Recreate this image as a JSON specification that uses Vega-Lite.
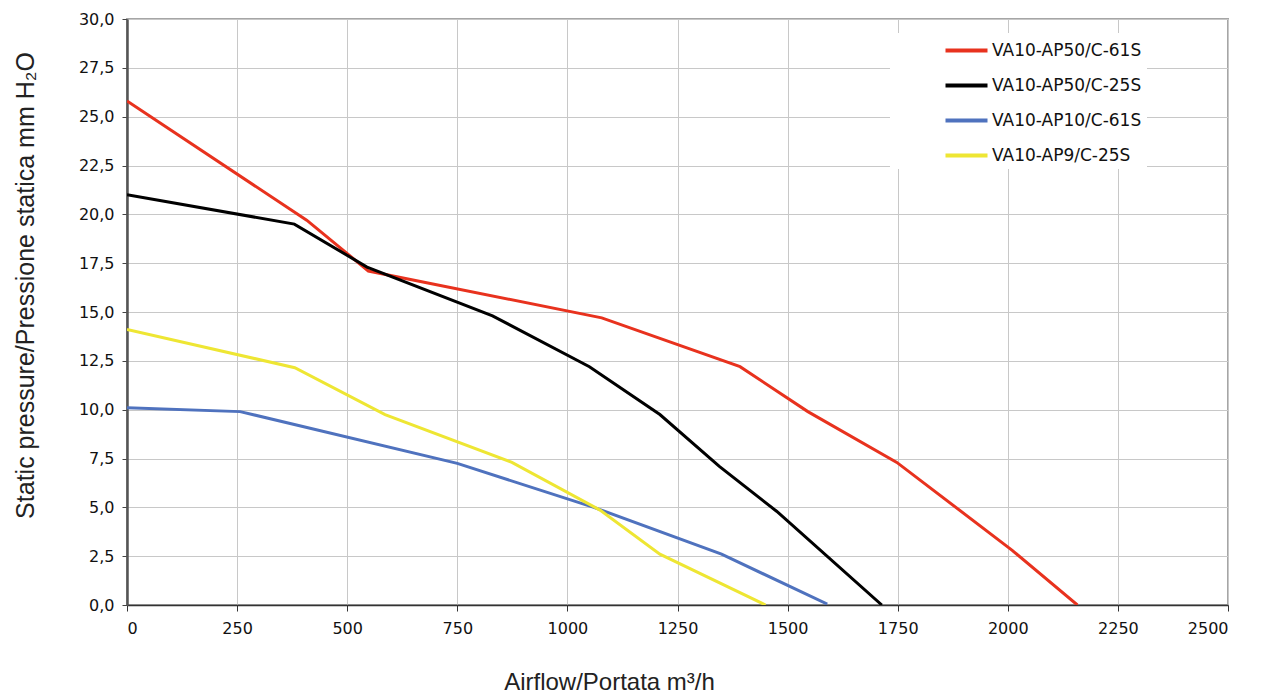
{
  "$schema": "https://vega.github.io/schema/vega-lite/v6.json",
  "width": 1101,
  "height": 586,
  "autosize": "none",
  "padding": {"left": 127, "top": 19, "right": 37, "bottom": 92},
  "background": "white",
  "config": {
    "view": {"stroke": "#A6A6A6", "strokeWidth": 2},
    "font": "DejaVu Sans"
  },
  "data": {
    "values": [
      {"series": "VA10-AP50/C-61S", "airflow": 0, "pressure": 25.8},
      {"series": "VA10-AP50/C-61S", "airflow": 408, "pressure": 19.7},
      {"series": "VA10-AP50/C-61S", "airflow": 548, "pressure": 17.1},
      {"series": "VA10-AP50/C-61S", "airflow": 1078, "pressure": 14.7},
      {"series": "VA10-AP50/C-61S", "airflow": 1392, "pressure": 12.2},
      {"series": "VA10-AP50/C-61S", "airflow": 1546, "pressure": 9.9},
      {"series": "VA10-AP50/C-61S", "airflow": 1748, "pressure": 7.3},
      {"series": "VA10-AP50/C-61S", "airflow": 2010, "pressure": 2.8},
      {"series": "VA10-AP50/C-61S", "airflow": 2158, "pressure": 0},
      {"series": "VA10-AP50/C-25S", "airflow": 0, "pressure": 21.0},
      {"series": "VA10-AP50/C-25S", "airflow": 380, "pressure": 19.5},
      {"series": "VA10-AP50/C-25S", "airflow": 545, "pressure": 17.3},
      {"series": "VA10-AP50/C-25S", "airflow": 830, "pressure": 14.8},
      {"series": "VA10-AP50/C-25S", "airflow": 1050, "pressure": 12.2},
      {"series": "VA10-AP50/C-25S", "airflow": 1210, "pressure": 9.75},
      {"series": "VA10-AP50/C-25S", "airflow": 1345, "pressure": 7.1},
      {"series": "VA10-AP50/C-25S", "airflow": 1475, "pressure": 4.8},
      {"series": "VA10-AP50/C-25S", "airflow": 1714, "pressure": 0},
      {"series": "VA10-AP10/C-61S", "airflow": 0, "pressure": 10.1},
      {"series": "VA10-AP10/C-61S", "airflow": 257, "pressure": 9.9},
      {"series": "VA10-AP10/C-61S", "airflow": 750, "pressure": 7.25},
      {"series": "VA10-AP10/C-61S", "airflow": 1060, "pressure": 5.0},
      {"series": "VA10-AP10/C-61S", "airflow": 1350, "pressure": 2.6},
      {"series": "VA10-AP10/C-61S", "airflow": 1590, "pressure": 0.05},
      {"series": "VA10-AP9/C-25S", "airflow": 0, "pressure": 14.1},
      {"series": "VA10-AP9/C-25S", "airflow": 381, "pressure": 12.15},
      {"series": "VA10-AP9/C-25S", "airflow": 586, "pressure": 9.75},
      {"series": "VA10-AP9/C-25S", "airflow": 874, "pressure": 7.3},
      {"series": "VA10-AP9/C-25S", "airflow": 1074, "pressure": 4.86},
      {"series": "VA10-AP9/C-25S", "airflow": 1210, "pressure": 2.6},
      {"series": "VA10-AP9/C-25S", "airflow": 1450, "pressure": 0}
    ]
  },
  "mark": {"type": "line", "strokeWidth": 3, "clip": true},
  "encoding": {
    "x": {
      "field": "airflow",
      "type": "quantitative",
      "scale": {"domain": [0, 2500], "nice": false, "zero": true},
      "axis": {
        "values": [0, 250, 500, 750, 1000, 1250, 1500, 1750, 2000, 2250, 2500],
        "format": "d",
        "title": "Airflow/Portata  m³/h",
        "titleFont": "Liberation Sans",
        "titleFontWeight": "normal",
        "titleFontSize": 24,
        "titleColor": "#222222",
        "titleX": 482,
        "titleY": 84,
        "titleAnchor": "middle",
        "titleBaseline": "alphabetic",
        "labelFont": "DejaVu Sans",
        "labelFontSize": 16,
        "labelColor": "#111111",
        "labelPadding": 9,
        "tickSize": 6,
        "tickColor": "#333333",
        "domainColor": "#333333",
        "domainWidth": 1.5,
        "grid": true,
        "gridColor": "#C8C8C8",
        "gridWidth": 1
      }
    },
    "y": {
      "field": "pressure",
      "type": "quantitative",
      "scale": {"domain": [0, 30], "nice": false},
      "axis": {
        "values": [0, 2.5, 5, 7.5, 10, 12.5, 15, 17.5, 20, 22.5, 25, 27.5, 30],
        "labelExpr": "replace(format(datum.value, '.1f'), '.', ',')",
        "title": "Static pressure/Pressione statica  mm H₂O",
        "titleFont": "Liberation Sans",
        "titleFontWeight": "normal",
        "titleFontSize": 25,
        "titleColor": "#222222",
        "titleX": -89,
        "titleY": 266,
        "titleAnchor": "middle",
        "titleBaseline": "bottom",
        "labelFont": "DejaVu Sans",
        "labelFontSize": 16,
        "labelColor": "#111111",
        "labelPadding": 8,
        "tickSize": 5,
        "tickColor": "#444444",
        "domainColor": "#555555",
        "domainWidth": 2.5,
        "grid": true,
        "gridColor": "#C8C8C8",
        "gridWidth": 1
      }
    },
    "color": {
      "field": "series",
      "type": "nominal",
      "scale": {
        "domain": ["VA10-AP50/C-61S", "VA10-AP50/C-25S", "VA10-AP10/C-61S", "VA10-AP9/C-25S"],
        "range": ["#E8321E", "#000000", "#4F72BE", "#EEE633"]
      },
      "legend": {
        "title": null,
        "orient": "none",
        "legendX": 763,
        "legendY": 14,
        "fillColor": "white",
        "padding": 5,
        "symbolType": "M-2,0L2,0",
        "symbolSize": 441,
        "symbolStrokeWidth": 4,
        "symbolOffset": 59,
        "labelFont": "DejaVu Sans",
        "labelFontSize": 17,
        "labelColor": "#111111",
        "labelOffset": 13,
        "rowPadding": 14
      }
    }
  }
}
